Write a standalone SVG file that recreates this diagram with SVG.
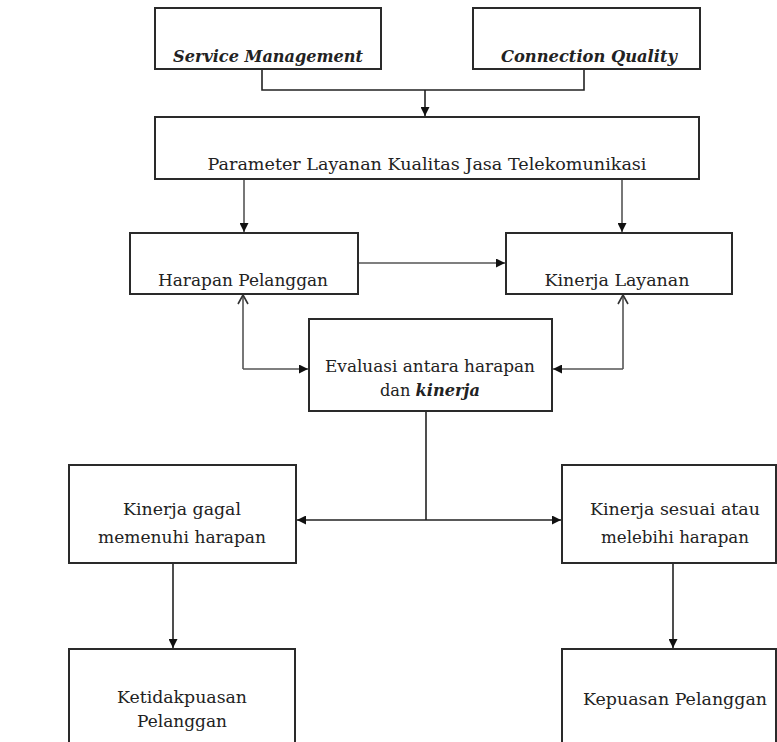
<svg xmlns="http://www.w3.org/2000/svg" width="777" height="742" viewBox="0 0 777 742">
<defs>
<marker id="ah" markerUnits="userSpaceOnUse" markerWidth="10" markerHeight="9" refX="9" refY="4.5" orient="auto">
<path d="M0,0 L9,4.5 L0,9 z" fill="#111"/>
</marker>
<marker id="oh" markerUnits="userSpaceOnUse" markerWidth="12" markerHeight="12" refX="10" refY="6" orient="auto">
<path d="M1,1 L10,6 L1,11" fill="none" stroke="#333" stroke-width="1.6"/>
</marker>
</defs>
<style>
.box{fill:#fff;stroke:#2a2a2a;stroke-width:2}
.t{font-family:"DejaVu Serif","Liberation Serif",serif;font-size:17px;fill:#222;text-anchor:middle}
.bi{font-style:italic;font-weight:bold}
.c{fill:none;stroke:#222;stroke-width:1.6}
.g{fill:none;stroke:#555;stroke-width:1.6}
</style>
<rect width="777" height="742" fill="#fff"/>
<g id="connectors">
<path class="c" d="M262,69 V90 H584 V69"/>
<path class="c" d="M425,90 V116" marker-end="url(#ah)"/>
<path class="g" d="M244,179 V232" marker-end="url(#ah)"/>
<path class="g" d="M622,179 V232" marker-end="url(#ah)"/>
<path class="g" d="M358,263 H505" marker-end="url(#ah)"/>
<path class="g" d="M243,369 H308" marker-end="url(#ah)"/>
<path class="g" d="M243,369 V295" marker-end="url(#oh)"/>
<path class="g" d="M623,369 H553" marker-end="url(#ah)"/>
<path class="g" d="M623,369 V295" marker-end="url(#oh)"/>
<path class="c" d="M426,411 V520"/>
<path class="c" d="M426,520 H297" marker-end="url(#ah)"/>
<path class="c" d="M426,520 H561" marker-end="url(#ah)"/>
<path class="c" d="M173,563 V648" marker-end="url(#ah)"/>
<path class="c" d="M673,563 V648" marker-end="url(#ah)"/>
</g>
<g id="service-management">
<rect class="box" x="155" y="8" width="226" height="61"/>
<text class="t bi" x="268" y="62" textLength="190" lengthAdjust="spacingAndGlyphs">Service Management</text>
</g>
<g id="connection-quality">
<rect class="box" x="473" y="8" width="227" height="61"/>
<text class="t bi" x="589" y="62" textLength="176" lengthAdjust="spacingAndGlyphs">Connection Quality</text>
</g>
<g id="parameter">
<rect class="box" x="155" y="117" width="544" height="62"/>
<text class="t" x="427" y="170" textLength="439" lengthAdjust="spacingAndGlyphs">Parameter Layanan Kualitas Jasa Telekomunikasi</text>
</g>
<g id="harapan">
<rect class="box" x="130" y="233" width="228" height="61"/>
<text class="t" x="243" y="286" textLength="170" lengthAdjust="spacingAndGlyphs">Harapan Pelanggan</text>
</g>
<g id="kinerja-layanan">
<rect class="box" x="506" y="233" width="226" height="61"/>
<text class="t" x="617" y="286" textLength="145" lengthAdjust="spacingAndGlyphs">Kinerja Layanan</text>
</g>
<g id="evaluasi">
<rect class="box" x="309" y="319" width="243" height="92"/>
<text class="t" x="430" y="372" textLength="210" lengthAdjust="spacingAndGlyphs">Evaluasi antara harapan</text>
<text class="t" x="430" y="396" textLength="100" lengthAdjust="spacingAndGlyphs">dan <tspan class="bi">kinerja</tspan></text>
</g>
<g id="kinerja-gagal">
<rect class="box" x="69" y="465" width="227" height="98"/>
<text class="t" x="182" y="515" textLength="118" lengthAdjust="spacingAndGlyphs">Kinerja gagal</text>
<text class="t" x="182" y="543" textLength="168" lengthAdjust="spacingAndGlyphs">memenuhi harapan</text>
</g>
<g id="kinerja-sesuai">
<rect class="box" x="562" y="465" width="214" height="98"/>
<text class="t" x="675" y="515" textLength="170" lengthAdjust="spacingAndGlyphs">Kinerja sesuai atau</text>
<text class="t" x="675" y="543" textLength="148" lengthAdjust="spacingAndGlyphs">melebihi harapan</text>
</g>
<g id="ketidakpuasan">
<rect class="box" x="69" y="649" width="226" height="100"/>
<text class="t" x="182" y="703" textLength="130" lengthAdjust="spacingAndGlyphs">Ketidakpuasan</text>
<text class="t" x="182" y="727" textLength="90" lengthAdjust="spacingAndGlyphs">Pelanggan</text>
</g>
<g id="kepuasan">
<rect class="box" x="562" y="649" width="214" height="100"/>
<text class="t" x="675" y="705" textLength="184" lengthAdjust="spacingAndGlyphs">Kepuasan Pelanggan</text>
</g>
</svg>
